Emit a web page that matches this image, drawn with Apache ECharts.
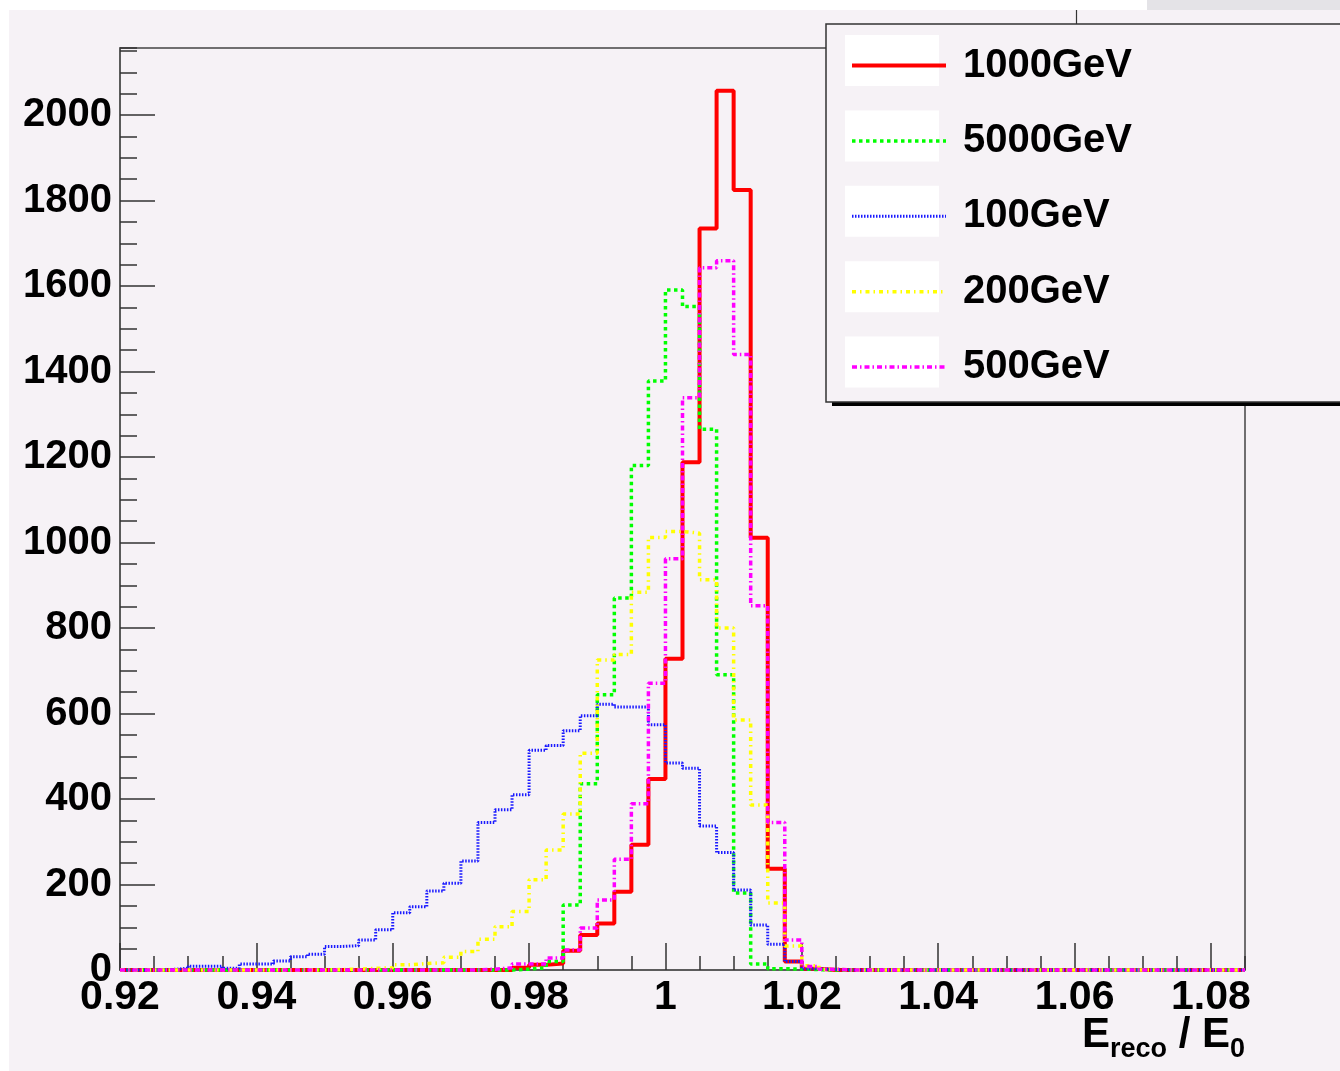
<!DOCTYPE html>
<html>
<head>
<meta charset="utf-8">
<script src="https://cdn.jsdelivr.net/npm/echarts@6/dist/echarts.min.js"></script>
<style>
html,body{margin:0;padding:0;background:#fff;}
#chart{width:1340px;height:1071px;}
</style>
</head>
<body>
<div id="chart"></div>
<script>
// ---------------- data ----------------
const BIN_LOW = 0.92;
const BIN_WIDTH = 0.0025;
const N_BINS = 66;

const seriesNames = ['1000GeV', '5000GeV', '100GeV', '200GeV', '500GeV'];

const h1000GeV = [
  0,0,0,0,0,0,0,0,0,0, 0,0,0,0,0,0,0,0,0,0, 0,0,0,
  5,12,15,45,82,109,183,293,447,728,1188,1735,2057,1825,1011,237,20,3,
  0,0,0,0,0,0,0,0,0,0, 0,0,0,0,0,0,0,0,0,0, 0,0,0,0,0
];
const h5000GeV = [
  0,0,0,0,0,0,0,0,0,0, 0,0,0,0,0,0,0,0,0,0, 0,0,0,
  2,5,20,152,436,644,870,1180,1378,1591,1552,1265,691,180,14,3,2,1,
  0,0,0,0,0,0,0,0,0,0, 0,0,0,0,0,0,0,0,0,0, 0,0,0,0,0
];
const h100GeV = [
  0,0,1,4,9,9,4,14,14,21,
  31,37,55,57,70,94,134,148,185,203,
  255,345,375,410,514,525,560,595,622,615,
  615,574,484,472,337,275,187,105,60,20,
  3,1,
  0,0,0,0,0,0,0,0,0,0, 0,0,0,0,0,0,0,0,0,0, 0,0,0,0
];
const h200GeV = [
  0,0,0,0,0,0,0,0,0,0, 0,0,
  1,2,4,5,12,15,17,30,43,72,
  101,137,211,281,365,507,725,738,884,1012,
  1026,1022,913,800,585,386,157,56,10,2,
  0,0,0,0,0,0,0,0,0,0, 0,0,0,0,0,0,0,0,0,0, 0,0,0,0
];
const h500GeV = [
  0,0,0,0,0,0,0,0,0,0, 0,0,0,0,0,0,0,0,0,0, 0,
  2,5,14,14,28,47,98,164,259,389,
  671,962,1339,1643,1659,1440,852,345,70,8,
  2,
  0,0,0,0,0,0,0,0,0,0, 0,0,0,0,0,0,0,0,0,0, 0,0,0,0
];

const X_MIN = 0.92, X_MAX = 1.085, X_MAJOR = 0.02, X_MINOR = 0.005;
const Y_MIN = 0, Y_MAX = 2157, Y_MAJOR = 200, Y_MINOR = 50;
const xTitleParts = ['E', 'reco', ' / E', '0'];

// ---------------- styling ----------------
const FONT = "'Liberation Sans', Arial, Helvetica, sans-serif";
const BG = '#f6f2f6';
const lineStyles = [
  { color: '#ff0000', width: 4,   type: 'solid' },
  { color: '#00ff00', width: 3.5, type: [3.5, 3.5] },
  { color: '#1a1aff', width: 3,   type: [1.5, 1.5] },
  { color: '#ffff00', width: 3.5, type: [4, 4, 1.5, 4] },
  { color: '#ff00ff', width: 3.5, type: [5, 3, 1.5, 3] }
];
const allHists = [h1000GeV, h5000GeV, h100GeV, h200GeV, h500GeV];

const binEdges = [];
for (let i = 0; i <= N_BINS; i++) binEdges.push(+(BIN_LOW + i * BIN_WIDTH).toFixed(5));

function stepData(vals) {
  const d = vals.map((v, i) => [binEdges[i], v]);
  d.push([binEdges[N_BINS], vals[N_BINS - 1]]);
  return d;
}

const series = seriesNames.map((name, i) => ({
  name: name,
  type: 'line',
  step: 'end',
  symbol: 'none',
  clip: false,
  data: stepData(allHists[i]),
  lineStyle: { color: lineStyles[i].color, width: lineStyles[i].width, type: lineStyles[i].type },
  itemStyle: { color: lineStyles[i].color },
  z: 2 + i,
  silent: true,
  animation: false
}));

const LEG_LEFT = 845, LEG_TOP = 35, LEG_ICON_W = 94, LEG_ICON_H = 51, LEG_PITCH = 75.4;

const graphics = [
  { type: 'rect', shape: { x: 0, y: 0, width: 1340, height: 10 }, style: { fill: '#ffffff' }, z: 50, silent: true },
  { type: 'rect', shape: { x: 0, y: 0, width: 9, height: 1071 }, style: { fill: '#ffffff' }, z: 50, silent: true },
  { type: 'rect', shape: { x: 1147, y: 0, width: 193, height: 10 }, style: { fill: '#e4e3e7' }, z: 51, silent: true },
  { type: 'line', shape: { x1: 1076.5, y1: 10, x2: 1076.5, y2: 24 }, style: { stroke: '#333', lineWidth: 1.2 }, z: 51, silent: true },
  { type: 'rect', shape: { x: 832, y: 401, width: 520, height: 5 }, style: { fill: '#000' }, z: 100, silent: true },
  { type: 'rect', shape: { x: 826, y: 24, width: 520, height: 378 }, style: { fill: BG, stroke: '#333', lineWidth: 1.5 }, z: 101, silent: true },
  // x-axis title (E_reco / E_0)
  { type: 'text', x: 1245, y: 1014, z: 60, silent: true,
    style: {
      text: '{m|' + xTitleParts[0] + '}{s|' + xTitleParts[1] + '}{m|' + xTitleParts[2] + '}{s|' + xTitleParts[3] + '}',
      align: 'right', verticalAlign: 'top',
      rich: {
        m: { fontFamily: FONT, fontWeight: 'bold', fontSize: 42, fill: '#000', lineHeight: 46, verticalAlign: 'top' },
        s: { fontFamily: FONT, fontWeight: 'bold', fontSize: 27, fill: '#000', lineHeight: 72, verticalAlign: 'middle' }
      }
    }
  }
];
seriesNames.forEach((n, i) => {
  graphics.push({ type: 'rect', shape: { x: LEG_LEFT, y: LEG_TOP + i * LEG_PITCH, width: LEG_ICON_W, height: LEG_ICON_H },
    style: { fill: '#ffffff' }, z: 102, silent: true });
});

const tickStyle = { color: '#333', width: 1.5 };

const option = {
  backgroundColor: BG,
  animation: false,
  grid: {
    left: 120, top: 48, right: 95, bottom: 101,
    outerBoundsMode: 'none',
    show: true, borderColor: '#444', borderWidth: 1.5, backgroundColor: 'transparent'
  },
  legend: {
    orient: 'vertical',
    left: LEG_LEFT, top: LEG_TOP,
    itemWidth: LEG_ICON_W, itemHeight: LEG_ICON_H,
    itemGap: LEG_PITCH - LEG_ICON_H,
    selectedMode: false,
    data: seriesNames,
    z: 200,
    itemStyle: { opacity: 0 },
    lineStyle: { width: 'inherit', type: 'inherit' },
    textStyle: { fontFamily: FONT, fontWeight: 'bold', fontSize: 40, color: '#000', lineHeight: LEG_ICON_H, padding: [0, 0, 0, 12] }
  },
  xAxis: [
    {
      type: 'value', min: X_MIN, max: X_MAX, interval: X_MAJOR,
      position: 'bottom',
      axisLine: { show: true, lineStyle: { color: '#555', width: 1.5 } },
      axisTick: { show: true, inside: true, length: 27, lineStyle: tickStyle },
      axisLabel: { show: true, showMaxLabel: false, margin: 6, fontFamily: FONT, fontWeight: 'bold', fontSize: 41, lineHeight: 44, color: '#000',
        formatter: v => String(+v.toFixed(3)) },
      splitLine: { show: false }
    },
    {
      type: 'value', min: X_MIN, max: X_MAX, interval: X_MINOR,
      position: 'bottom', offset: 0,
      axisLine: { show: false },
      axisTick: { show: true, inside: true, length: 14, lineStyle: tickStyle },
      axisLabel: { show: false },
      splitLine: { show: false }
    }
  ],
  yAxis: [
    {
      type: 'value', min: Y_MIN, max: Y_MAX, interval: Y_MAJOR,
      position: 'left',
      axisLine: { show: true, lineStyle: { color: '#555', width: 1.5 } },
      axisTick: { show: true, inside: true, length: 35, lineStyle: tickStyle },
      axisLabel: { show: true, showMaxLabel: false, margin: 8, fontFamily: FONT, fontWeight: 'bold', fontSize: 40, color: '#000',
        formatter: v => String(v) },
      splitLine: { show: false }
    },
    {
      type: 'value', min: Y_MIN, max: Y_MAX, interval: Y_MINOR,
      position: 'left', offset: 0,
      axisLine: { show: false },
      axisTick: { show: true, inside: true, length: 17, lineStyle: tickStyle },
      axisLabel: { show: false },
      splitLine: { show: false }
    }
  ],
  graphic: { elements: graphics },
  series: series
};

const chart = echarts.init(document.getElementById('chart'), null, { renderer: 'canvas' });
chart.setOption(option);
</script>
</body>
</html>
